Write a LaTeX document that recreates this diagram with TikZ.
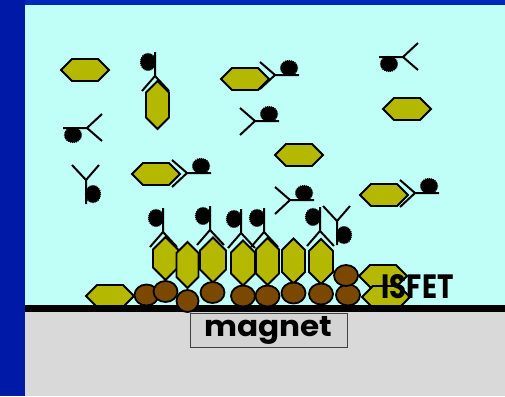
\documentclass[tikz,border=0pt]{standalone}
\usepackage{fontspec}
\setmainfont{Poppins}
\usetikzlibrary{shapes.symbols}
\usetikzlibrary{shapes.geometric}
\definecolor{solcyan}{RGB}{192,255,248}
\definecolor{agolive}{RGB}{181,184,0}
\definecolor{beadbrown}{RGB}{122,72,0}
\definecolor{chipgray}{RGB}{217,217,217}
\definecolor{boxgray}{RGB}{212,212,212}
\definecolor{sideblue}{RGB}{0,26,168}
\definecolor{topblue}{RGB}{0,40,187}
\tikzset{
    antigen/.style = {signal, signal to=east and west, signal pointer angle=90, draw=black, line width=1.8pt, fill=agolive, minimum width=48pt, minimum height=22pt, inner sep=0pt},
    antigenv/.style = {antigen, rotate=90, minimum width=45pt, minimum height=24pt}, % standing up
    bead/.style = {ellipse, draw=black, line width=1.8pt, fill=beadbrown, minimum width=24pt, minimum height=21pt, inner sep=0pt},
    abline/.style = {line width=2pt, draw=black},
    tagball/.style = {fill=black, draw=black, line width=1.2pt, dash pattern=on 1pt off 1pt},
    pics/antibody/.style = {code={
        \draw[abline] (0,-24) -- (0,0) (-13,15) -- (0,0) -- (14,15);
        \filldraw[tagball] (-7,-14) ellipse [x radius=7.5pt, y radius=8.5pt];
    }}
}
\begin{document}
\begin{tikzpicture}[x=1pt,y=-1pt]
\useasboundingbox (0,0) rectangle (505,396);
% frame, solution and chip
\fill[solcyan] (25,5) rectangle (505,305);
\fill[chipgray] (25,312) rectangle (505,396);
\fill[sideblue] (0,0) rectangle (25,396);
\fill[topblue] (25,0) rectangle (505,5);
%
% free antigens and antibodies
\node[antigen] at (85,70) (ag1) {};
\node[antigen] at (245,79) (ag2) {};
\node[antigen] at (407,109) (ag3) {};
\node[antigen] at (156,174) (ag4) {};
\node[antigen] at (299,155) (ag5) {};
\node[antigen] at (384,195) (ag6) {};
\node[antigenv, minimum width=48pt, minimum height=23pt] at (157.5,105) (ag7) {};
\pic[rotate=90] (abA) at (87,128) {antibody};
\pic[rotate=-90] (abB) at (275,75) {antibody};
\pic[rotate=-90] (abC) at (255,121) {antibody};
\pic[rotate=90] (abD) at (403,57) {antibody};
\pic[rotate=-90] (abE) at (415,193) {antibody};
\pic[rotate=180] (abF) at (86,180) {antibody};
\pic[rotate=-90] (abG) at (187,173) {antibody};
\pic[rotate=-90] (abH) at (290,200) {antibody};
\pic (abI) at (155,76) {antibody};
\pic[rotate=180] (abJ) at (337,221) {antibody};
%
% captured complexes on the surface
\node[antigenv, minimum width=43pt, minimum height=25pt] at (165.5,258.5) (cg1) {};
\node[antigenv, minimum width=46pt, minimum height=22pt] at (187.5,265) (cg2) {};
\node[antigenv, minimum height=26pt] at (213,260) (cg3) {};
\node[antigenv] at (243,263) (cg4) {};
\node[antigenv, minimum width=47pt, minimum height=23pt] at (267.5,261.5) (cg5) {};
\node[antigenv, minimum height=23pt] at (293.5,261) (cg6) {};
\node[antigenv] at (321,261.5) (cg7) {};
\pic (ab1) at (163,232) {antibody};
\pic (ab2) at (210,230) {antibody};
\pic (ab3) at (241,233) {antibody};
\pic (ab4) at (264,232) {antibody};
\pic (ab5) at (320,231) {antibody};
%
\node[antigen] at (110,296) (ag8) {};
\node[antigen] at (383,276) (is1) {};
\node[antigen] at (386,297) (is2) {};
%
% sensor surface
\fill[black] (25,305) rectangle (505,312);
%
% magnetic beads
\node[bead] at (146.5,295) (bd1) {};
\node[bead] at (165.5,291.5) (bd2) {};
\node[bead, minimum width=22pt, minimum height=22pt] at (187.5,301) (bd3) {};
\node[bead] at (212.5,292.5) (bd4) {};
\node[bead] at (243,296) (bd5) {};
\node[bead] at (267.5,296) (bd6) {};
\node[bead] at (293.5,293) (bd7) {};
\node[bead] at (321,294) (bd8) {};
\node[bead] at (348,295) (bd9) {};
\node[bead] at (346,275.5) (bd10) {};
%
\node[inner sep=0pt, font=\bfseries] at (417.5,287) (isfet) {\resizebox{72pt}{24pt}{ISFET}};
\node[rectangle, draw=black!75, line width=0.8pt, fill=boxgray, minimum width=157pt, minimum height=34pt, inner sep=0pt, font=\bfseries] at (268.5,330) (magnet) {\resizebox*{128pt}{28pt}{magnet}};
\end{tikzpicture}
\end{document}
